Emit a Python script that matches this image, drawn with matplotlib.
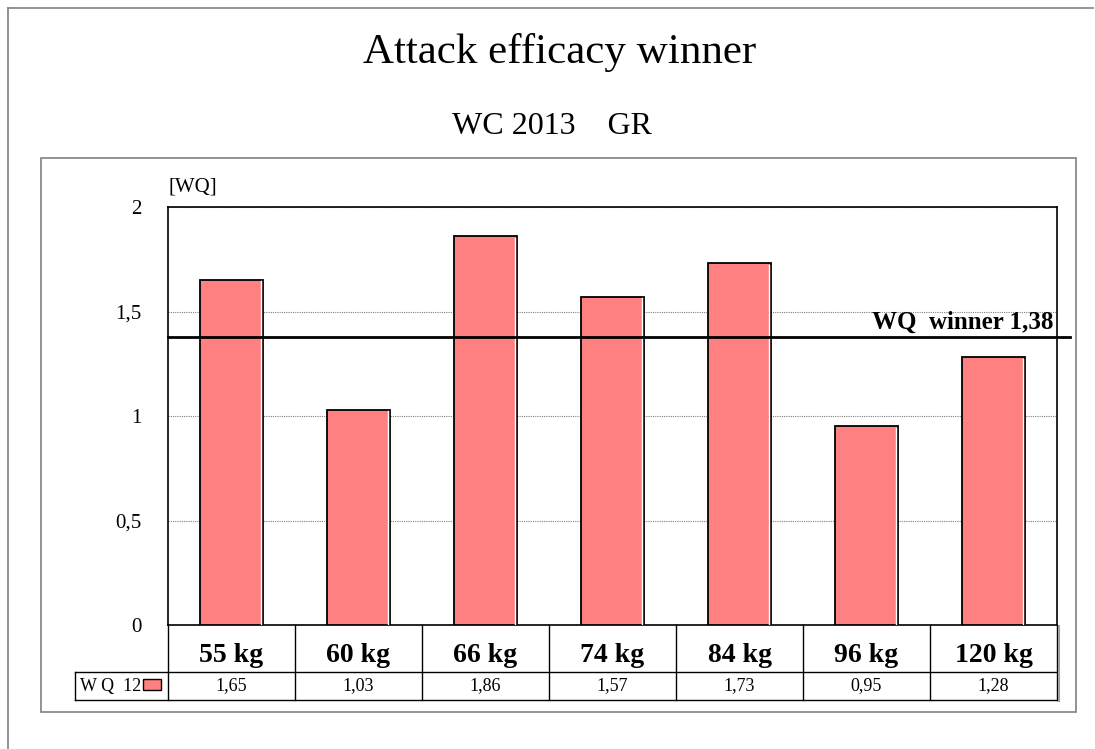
import matplotlib
matplotlib.use("Agg")
import matplotlib.pyplot as plt
from matplotlib.patches import Rectangle
import matplotlib.transforms as mtransforms

categories = ["55 kg", "60 kg", "66 kg", "74 kg", "84 kg", "96 kg", "120 kg"]
wq_values = [1.65, 1.03, 1.86, 1.57, 1.73, 0.95, 1.28]
winner_wq = 1.38
series_name = "W Q  12"
y_ticks = [0, 0.5, 1, 1.5, 2]
y_tick_labels = ["0", "0,5", "1", "1,5", "2"]
title = "Attack efficacy winner"
subtitle = "WC 2013    GR"
y_unit = "[WQ]"

def fmt(v):
    return f"{v:.2f}".replace(".", ",")

W, H = 1095, 749
plt.rcParams['font.family'] = ['Liberation Serif', 'DejaVu Serif']
fig = plt.figure(figsize=(W / 100, H / 100), dpi=100)

# frame overlay in pixel coordinates
ov = fig.add_axes([0, 0, 1, 1], zorder=0)
ov.set_xlim(0, W)
ov.set_ylim(H, 0)
ov.axis('off')
grey = '#808080'
ov.plot([8, 1093], [8, 8], color=grey, lw=1.2)
ov.plot([8, 8], [8, H], color=grey, lw=1.2)
ov.add_patch(Rectangle((41, 158), 1035, 554, fill=False, edgecolor=grey, lw=1.2))

L, R, T, B = 168, 1057, 207, 625
ax = fig.add_axes([L / W, 1 - B / H, (R - L) / W, (B - T) / H], zorder=1)
ax.set_facecolor('none')
n = len(categories)
xs = list(range(n))
colw = (R - L) / n  # pixels per category
ax.bar(xs, wq_values, width=0.5, color='#FF8080', edgecolor='black', linewidth=1.3, zorder=3)
for i, v in enumerate(wq_values):
    ax.plot([i + 0.25 - 2.5 / colw] * 2, [0.005, v - 0.006], color='white', lw=1, zorder=3.5)
ax.set_xlim(-0.5, n - 0.5)
ax.set_ylim(0, 2)
ax.set_yticks(y_ticks)
ax.set_yticklabels(y_tick_labels, fontsize=15)
ax.tick_params(axis='y', length=0, pad=19)
ax.set_xticks([])
ax.yaxis.grid(True, color='#808080', linestyle=(0, (1, 1)), linewidth=0.8)
ax.set_axisbelow(True)
for s in ax.spines.values():
    s.set_color('black')
    s.set_linewidth(1.2)

# winner line
ext = (1070 - R) / colw
ax.plot([-0.5, n - 0.5 + ext], [winner_wq, winner_wq], color='black', lw=2, clip_on=False, zorder=4)
ax.text(n - 0.5 - 4 / colw, winner_wq + 0.012, "WQ  winner " + fmt(winner_wq),
        ha='right', va='bottom', fontsize=18, fontweight='bold', zorder=5)

# table below
trans = mtransforms.blended_transform_factory(ax.transData, ax.transAxes)
def ay(p):
    return (B - p) / (B - T)

leg_left = -0.5 - (L - 75) / colw
for i in range(n + 1):
    ax.plot([i - 0.5, i - 0.5], [ay(625), ay(700)], color='black', lw=1, transform=trans, clip_on=False)
for yy in [672, 700]:
    ax.plot([leg_left, n - 0.5], [ay(yy), ay(yy)], color='black', lw=1, transform=trans, clip_on=False)
ax.plot([leg_left, leg_left], [ay(672), ay(700)], color='black', lw=1, transform=trans, clip_on=False)
ax.plot([n - 0.5 + 2 / colw] * 2, [ay(626), ay(701)], color='#a0a0a0', lw=1.5, transform=trans, clip_on=False)

for i, (c, v) in enumerate(zip(categories, wq_values)):
    ax.text(i, ay(655), c, ha='center', va='center', fontsize=20, fontweight='bold',
            transform=trans, clip_on=False)
    ax.text(i, ay(686), fmt(v), ha='center', va='center', fontsize=13,
            transform=trans, clip_on=False)

ax.text(-0.5 - (L - 80) / colw, ay(686), series_name, ha='left', va='center', fontsize=13,
        transform=trans, clip_on=False)
ax.add_patch(Rectangle((-0.5 - (L - 143) / colw, ay(690)), 18 / colw, ay(679) - ay(690),
                       facecolor='#FF8080', edgecolor='black', lw=1, transform=trans, clip_on=False))

fig.text(560 / W, 1 - 53 / H, title, ha='center', va='center', fontsize=31)
fig.text(552 / W, 1 - 127 / H, subtitle, ha='center', va='center', fontsize=23)
fig.text(168 / W, 1 - 187 / H, y_unit, ha='left', va='center', fontsize=15)

fig.savefig("out.png", dpi=100)
